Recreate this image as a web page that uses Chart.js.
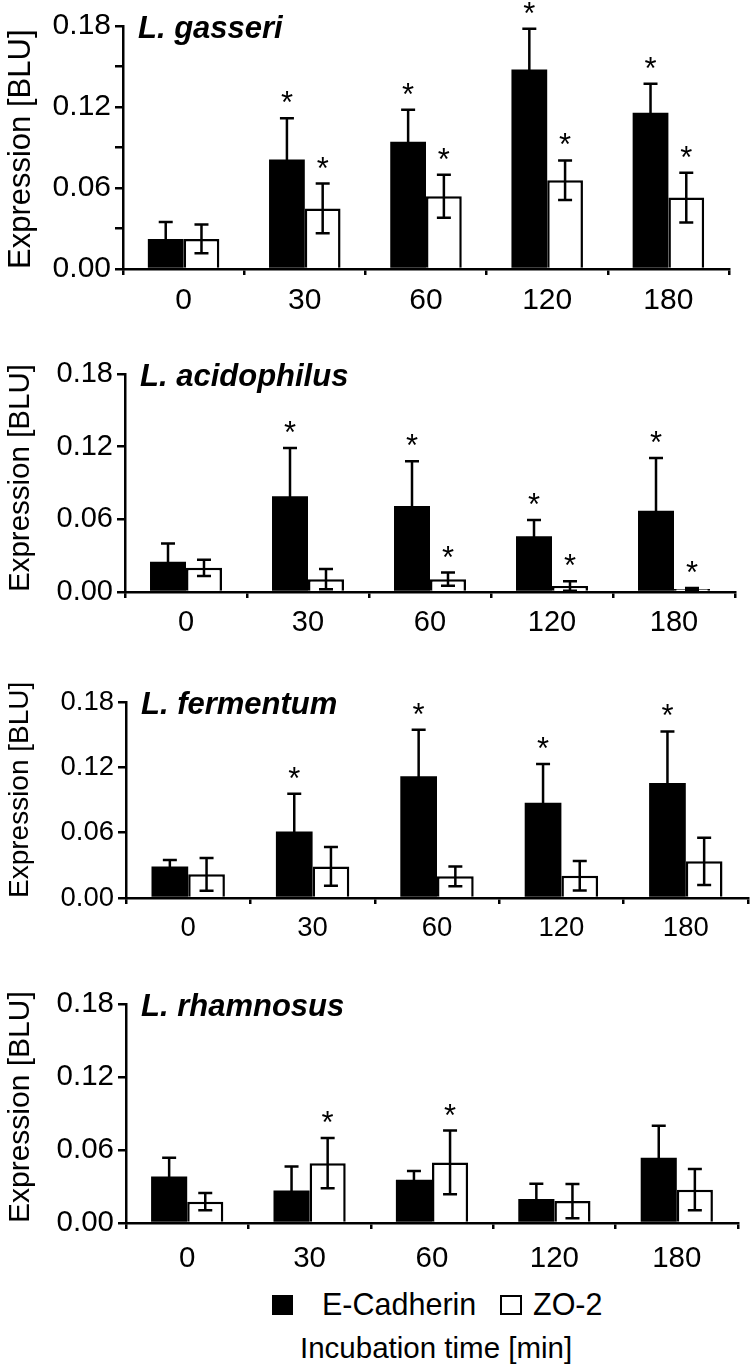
<!DOCTYPE html>
<html>
<head>
<meta charset="utf-8">
<script src="https://cdn.jsdelivr.net/npm/chart.js@4"></script>
<style>
  body { margin: 0; background: #fff; }
  #page { position: relative; width: 750px; height: 1369px; overflow: hidden; font-family: "Liberation Sans", Arial, sans-serif; color: #000; }
  #page canvas { position: absolute; left: 0; }
  .lbl { position: absolute; white-space: nowrap; line-height: 1; }
  .sq { position: absolute; box-sizing: border-box; }
</style>
</head>
<body>
<div id="page">
  <canvas id="p1"></canvas>
  <canvas id="p2"></canvas>
  <canvas id="p3"></canvas>
  <canvas id="p4"></canvas>

  <div class="sq" style="left:272px; top:1295px; width:21px; height:20px; background:#000;"></div>
  <div class="lbl" style="left:322px; top:1289px; font-size:30.5px;">E-Cadherin</div>
  <div class="sq" style="left:500px; top:1295px; width:22px; height:20px; border:2.5px solid #000;"></div>
  <div class="lbl" style="left:533px; top:1289px; font-size:30.5px;">ZO-2</div>
  <div class="lbl" style="left:300px; top:1333px; font-size:29.5px;">Incubation time [min]</div>
</div>
<script>
const FONT = '"Liberation Sans", Arial, sans-serif';

const timeLabels = ['0', '30', '60', '120', '180'];

// L. gasseri
const gasseriCad = [0.0223, 0.0812, 0.0943, 0.1477, 0.1157];
const gasseriCadSd = [0.0125, 0.0305, 0.0237, 0.0303, 0.0216];
const gasseriZo = [0.0223, 0.0449, 0.0539, 0.0658, 0.0529];
const gasseriZoSd = [0.0107, 0.0184, 0.0159, 0.0146, 0.0184];
const gasseriCadSig = [0, 1, 1, 1, 1];
const gasseriZoSig = [0, 1, 1, 1, 1];

// L. acidophilus
const acidoCad = [0.025, 0.079, 0.071, 0.046, 0.067];
const acidoCadSd = [0.015, 0.040, 0.037, 0.0134, 0.0436];
const acidoZo = [0.020, 0.0106, 0.0106, 0.005, 0.0025];
const acidoZoSd = [0.0067, 0.0084, 0.0054, 0.0039, 0.0008];
const acidoCadSig = [0, 1, 1, 1, 1];
const acidoZoSig = [0, 0, 1, 1, 1];

// L. fermentum
const fermCad = [0.029, 0.061, 0.1117, 0.0875, 0.1056];
const fermCadSd = [0.006, 0.0348, 0.0429, 0.0355, 0.0474];
const fermZo = [0.0217, 0.029, 0.0199, 0.0205, 0.0337];
const fermZoSd = [0.015, 0.0178, 0.0091, 0.0135, 0.0217];
const fermCadSig = [0, 1, 1, 1, 1];
const fermZoSig = [0, 0, 0, 0, 0];

// L. rhamnosus
const rhamCad = [0.0383, 0.0268, 0.0356, 0.0197, 0.0536];
const rhamCadSd = [0.0153, 0.0197, 0.0071, 0.0126, 0.0264];
const rhamZo = [0.0175, 0.0492, 0.0498, 0.018, 0.0274];
const rhamZoSd = [0.0071, 0.0206, 0.0262, 0.014, 0.0169];
const rhamCadSig = [0, 0, 0, 0, 0];
const rhamZoSig = [0, 1, 1, 0, 0];

// plot area of each panel on the page (px); the panels were not scaled evenly,
// so the text sizes follow each panel a little
const PANELS = [
    { id: 'p1', name: 'L. gasseri',     top: 26,   bottom: 269,  left: 123, right: 729,
      tickSize: 30, titleSize: 31, xPad: 8,
      cad: gasseriCad, cadSd: gasseriCadSd, cadSig: gasseriCadSig, zo: gasseriZo, zoSd: gasseriZoSd, zoSig: gasseriZoSig },
    { id: 'p2', name: 'L. acidophilus', top: 374,  bottom: 592,  left: 125, right: 735,
      tickSize: 29, titleSize: 29.5, xPad: 8,
      cad: acidoCad, cadSd: acidoCadSd, cadSig: acidoCadSig, zo: acidoZo, zoSd: acidoZoSd, zoSig: acidoZoSig },
    { id: 'p3', name: 'L. fermentum',   top: 702,  bottom: 898,  left: 126, right: 748,
      tickSize: 27.5, titleSize: 28, xPad: 8,
      cad: fermCad, cadSd: fermCadSd, cadSig: fermCadSig, zo: fermZo, zoSd: fermZoSd, zoSig: fermZoSig },
    { id: 'p4', name: 'L. rhamnosus',   top: 1004, bottom: 1223, left: 126, right: 738,
      tickSize: 29.5, titleSize: 30, xPad: 12,
      cad: rhamCad, cadSd: rhamCadSd, cadSig: rhamCadSig, zo: rhamZo, zoSd: rhamZoSd, zoSig: rhamZoSig },
];

const PAD_TOP = 32;
const X_AXIS_H = 54;

// error bars, significance stars and the species name
const overlay = {
    id: 'overlay',
    afterDatasetsDraw(chart, args, opts) {
        const ctx = chart.ctx;
        const yScale = chart.scales.y;
        chart.data.datasets.forEach((ds, di) => {
            const meta = chart.getDatasetMeta(di);
            meta.data.forEach((bar, i) => {
                const v = ds.data[i];
                const sd = ds.sd[i];
                const yTop = yScale.getPixelForValue(v + sd);
                const yBot = yScale.getPixelForValue(Math.max(v - sd, 0));
                ctx.save();
                ctx.strokeStyle = '#000';
                ctx.lineWidth = 2.5;
                ctx.beginPath();
                ctx.moveTo(bar.x, yBot);
                ctx.lineTo(bar.x, yTop);
                ctx.moveTo(bar.x - 7, yTop);
                ctx.lineTo(bar.x + 7, yTop);
                ctx.moveTo(bar.x - 7, yBot);
                ctx.lineTo(bar.x + 7, yBot);
                ctx.stroke();
                if (ds.sig[i]) {
                    ctx.fillStyle = '#000';
                    ctx.font = '31px ' + FONT;
                    ctx.textAlign = 'center';
                    ctx.textBaseline = 'alphabetic';
                    ctx.fillText('*', bar.x, yTop - 5);
                }
                ctx.restore();
            });
        });
        const area = chart.chartArea;
        ctx.save();
        ctx.fillStyle = '#000';
        ctx.font = 'italic bold 31px ' + FONT;
        ctx.textAlign = 'left';
        ctx.textBaseline = 'alphabetic';
        ctx.fillText(opts.name, area.left + 15, area.top + 12);
        ctx.restore();
    }
};

function makePanel(p) {
    const canvas = document.getElementById(p.id);
    const h = (p.bottom - p.top) + PAD_TOP + X_AXIS_H;
    canvas.width = 750;
    canvas.height = h;
    canvas.style.width = '750px';
    canvas.style.height = h + 'px';
    canvas.style.top = (p.top - PAD_TOP) + 'px';

    new Chart(canvas, {
        type: 'bar',
        data: {
            labels: timeLabels,
            datasets: [
                { label: 'E-Cadherin', data: p.cad, sd: p.cadSd, sig: p.cadSig,
                  backgroundColor: '#000', borderColor: '#000', borderWidth: 0 },
                { label: 'ZO-2', data: p.zo, sd: p.zoSd, sig: p.zoSig,
                  backgroundColor: '#fff', borderColor: '#000', borderWidth: 2.5 }
            ]
        },
        options: {
            responsive: false,
            animation: false,
            devicePixelRatio: 1,
            categoryPercentage: 0.59,
            barPercentage: 1,
            layout: { padding: { top: PAD_TOP, right: 750 - p.right, left: 0, bottom: 0 } },
            plugins: {
                legend: { display: false },
                tooltip: { enabled: false },
                overlay: { name: p.name }
            },
            scales: {
                x: {
                    afterFit: s => { s.height = X_AXIS_H; },
                    border: { display: true, color: '#000', width: 2.5 },
                    grid: { offset: true, drawOnChartArea: false, drawTicks: true, tickLength: 6, color: '#000', lineWidth: 2.5 },
                    ticks: { color: '#000', font: { family: FONT, size: p.tickSize }, padding: p.xPad, autoSkip: false, maxRotation: 0 }
                },
                y: {
                    min: 0,
                    max: 0.18,
                    afterFit: s => { s.width = p.left; },
                    border: { display: true, color: '#000', width: 2.5 },
                    grid: { drawOnChartArea: false, drawTicks: true, tickLength: 8, color: '#000', lineWidth: 2.5 },
                    ticks: {
                        stepSize: 0.03,
                        color: '#000',
                        padding: 4,
                        font: { family: FONT, size: p.tickSize },
                        callback: v => (Math.round(v * 100) % 6 === 0 ? v.toFixed(2) : '')
                    },
                    title: {
                        display: true,
                        text: 'Expression [BLU]',
                        align: 'start',
                        color: '#000',
                        font: { family: FONT, size: p.titleSize },
                        padding: { top: 3, bottom: 0 }
                    }
                }
            }
        },
        plugins: [overlay]
    });
}

PANELS.forEach(makePanel);
</script>
</body>
</html>
